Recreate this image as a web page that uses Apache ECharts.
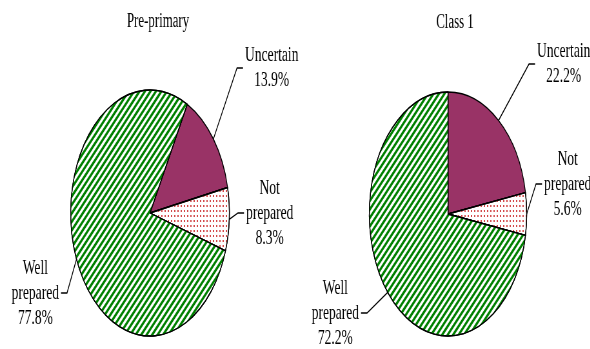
<!DOCTYPE html>
<html>
<head>
<meta charset="utf-8">
<script src="https://cdn.jsdelivr.net/npm/echarts@6/dist/echarts.min.js"></script>
<style>
  html, body { margin: 0; padding: 0; overflow: hidden; background: #fff; }
  /* the original pies are squeezed sideways, so draw round pies and squeeze the whole canvas */
  #main { width: 915px; height: 349px; transform: scaleX(0.645); transform-origin: 0 0; }
</style>
</head>
<body>
<div id="main"></div>
<script>
  var S = 0.645

  var groups = ['Pre-primary', 'Class 1']
  var categories = ['Uncertain', 'Not prepared', 'Well prepared']
  var prePrimary = [13.9, 8.3, 77.8]
  var class1 = [22.2, 5.6, 72.2]

  // label anchors in final (squeezed) pixels: end of the little tick, y, side
  var anchorsLeft = [
    { x: 243, y: 68, side: 1 },
    { x: 244, y: 213, side: 1 },
    { x: 61, y: 293, side: -1 }
  ]
  var anchorsRight = [
    { x: 535, y: 64, side: 1 },
    { x: 542, y: 184, side: 1 },
    { x: 361, y: 313, side: -1 }
  ]

  var fills = [
    { color: '#993366' },
    { color: '#ffffff', decal: { symbol: 'rect', symbolSize: 1, color: '#d24a4a', dashArrayX: [1.4, 2.8], dashArrayY: [1.3, 2.3] } },
    { color: '#ffffff', decal: { symbol: 'rect', symbolSize: 1, color: '#008000', dashArrayX: [1, 0], dashArrayY: [2.4, 2.6], rotation: -Math.PI / 4 } }
  ]

  var font = { fontFamily: 'Liberation Serif', fontSize: 21, color: '#000' }

  function buildData(values) {
    return categories.map(function (name, i) {
      return {
        name: name,
        value: values[i],
        itemStyle: Object.assign({ borderColor: '#000', borderWidth: 1.3 }, fills[i])
      }
    })
  }

  function makeLayout(anchors) {
    return function (p) {
      var a = anchors[p.dataIndex]
      var w = p.labelRect.width * S
      var cx = a.x + a.side * (2 + w / 2)
      var bend = a.x - a.side * 6
      var pts = p.labelLinePoints
      var res = { x: cx / S, y: a.y, align: 'center', verticalAlign: 'middle' }
      if (pts) {
        res.labelLinePoints = [pts[0], [bend / S, a.y], [a.x / S, a.y]]
      }
      return res
    }
  }

  function pieSeries(values, cx, cy, r, startAngle, anchors) {
    return {
      type: 'pie',
      center: [cx / S, cy],
      radius: r,
      startAngle: startAngle,
      clockwise: true,
      avoidLabelOverlap: false,
      data: buildData(values),
      label: Object.assign({
        show: true,
        position: 'outside',
        lineHeight: 25,
        align: 'center',
        formatter: function (p) {
          return p.name.replace(' ', '\n') + '\n' + p.value.toFixed(1) + '%'
        }
      }, font),
      labelLine: { show: true, length: 20, length2: 6, smooth: false, lineStyle: { color: '#000', width: 1.3 } },
      labelLayout: makeLayout(anchors),
      emphasis: { disabled: true }
    }
  }

  var chart = echarts.init(document.getElementById('main'))
  chart.setOption({
    animation: false,
    backgroundColor: '#fff',
    graphic: [
      { type: 'text', x: 158 / S, y: 22, style: { text: groups[0], textAlign: 'center', textVerticalAlign: 'middle', fill: '#000', font: '20px "Liberation Serif"' } },
      { type: 'text', x: 455 / S, y: 23, style: { text: groups[1], textAlign: 'center', textVerticalAlign: 'middle', fill: '#000', font: '20px "Liberation Serif"' } }
    ],
    series: [
      pieSeries(prePrimary, 150, 213, 123, 62, anchorsLeft),
      pieSeries(class1, 448, 214, 122, 90, anchorsRight)
    ]
  })
</script>
</body>
</html>
